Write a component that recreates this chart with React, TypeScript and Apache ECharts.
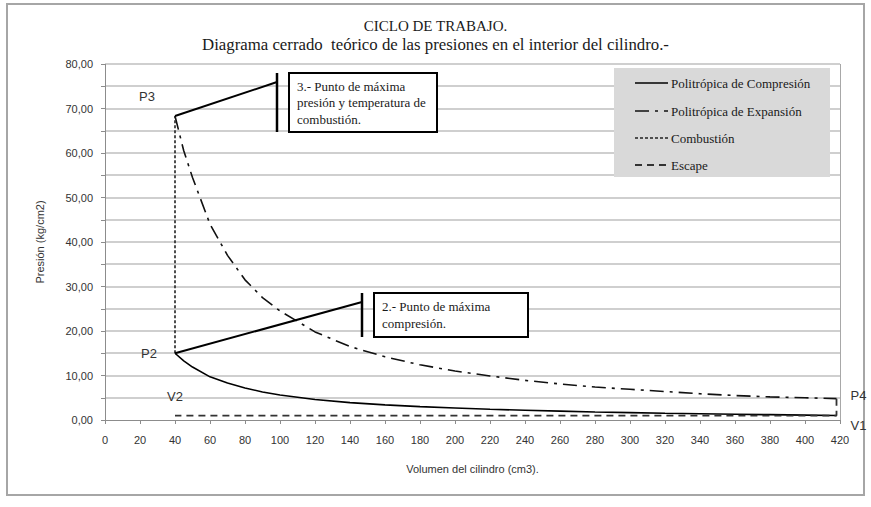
import React, { useEffect, useRef } from 'react';
import * as echarts from 'echarts';

// ---- data ----
const volumes = [40, 45, 50, 60, 70, 80, 90, 100, 120, 140, 160, 180, 200, 220, 240, 260, 280, 300, 320, 340, 360, 380, 400, 418];
const compressionP = [15.0, 13.3, 11.9, 9.7, 8.3, 7.2, 6.3, 5.6, 4.6, 3.9, 3.4, 3.0, 2.7, 2.4, 2.2, 2.0, 1.8, 1.65, 1.5, 1.4, 1.3, 1.2, 1.1, 1.0];
const expansionP = [68.3, 60.5, 54.5, 44.0, 37.0, 31.5, 27.5, 24.5, 19.8, 16.5, 14.2, 12.4, 11.0, 9.9, 8.9, 8.1, 7.4, 6.9, 6.4, 5.9, 5.5, 5.2, 5.0, 4.8];
const combustionV = [40, 40];
const combustionP = [15.0, 68.3];
const escapeV = [418, 418, 40];
const escapeP = [4.8, 1.0, 1.0];
const gridLineValues = [5, 10, 15, 20, 25, 30, 35, 40, 45, 50, 55, 60, 65, 70, 75, 80];
const seriesNames = ['Politrópica de Compresión', 'Politrópica de Expansión', 'Combustión', 'Escape'];
const titleLines = ['CICLO DE TRABAJO.', 'Diagrama cerrado  teórico de las presiones en el interior del cilindro.-'];
const xAxisName = 'Volumen del cilindro (cm3).';
const yAxisName = 'Presión (kg/cm2)';
const note3 = ['3.- Punto de máxima', 'presión y temperatura de', 'combustión.'];
const note2 = ['2.- Punto de máxima', 'compresión.'];

const SERIF = "'Liberation Serif', 'DejaVu Serif', serif";
const SANS = "'Liberation Sans Narrow', 'Liberation Sans', 'DejaVu Sans Condensed', sans-serif";

const zip = (xs: number[], ys: number[]) => xs.map((x, i) => [x, ys[i]]);

const lineStyles: any[] = [
  { color: '#000', width: 1.6, type: 'solid' },
  { color: '#111', width: 1.6, type: [14, 6, 3, 6] },
  { color: '#222', width: 1.6, type: [3, 2] },
  { color: '#333', width: 1.8, type: [7, 5] },
];

export default function App() {
  const ref = useRef<HTMLDivElement>(null);
  useEffect(() => {
    if (!ref.current) return;
    const chart = echarts.init(ref.current, undefined, { renderer: 'svg' });
    const option: any = {
      animation: false,
      backgroundColor: '#fff',
      title: {
        text: `{a|${titleLines[0]}}\n{b|${titleLines[1]}}`,
        left: 'center',
        top: 12,
        textStyle: {
          fontFamily: SERIF, fontWeight: 'normal', color: '#1a1a1a',
          rich: {
            a: { fontFamily: SERIF, fontSize: 15, lineHeight: 18, color: '#1a1a1a' },
            b: { fontFamily: SERIF, fontSize: 16.8, lineHeight: 19, color: '#1a1a1a' },
          },
        },
      },
      grid: { left: 105, right: 31, top: 64, bottom: 87, show: false },
      xAxis: {
        type: 'value', min: 0, max: 420, interval: 20,
        name: xAxisName, nameLocation: 'middle', nameGap: 43,
        nameTextStyle: { fontFamily: SANS, fontSize: 11, color: '#333' },
        axisLine: { show: true, lineStyle: { color: '#8c8c8c' } },
        axisTick: { show: true, length: 4, lineStyle: { color: '#8c8c8c' } },
        axisLabel: { fontFamily: SANS, fontSize: 11, color: '#333', margin: 14 },
        splitLine: { show: false },
      },
      yAxis: {
        type: 'value', min: 0, max: 80, interval: 5,
        name: yAxisName, nameLocation: 'middle', nameGap: 60,
        nameTextStyle: { fontFamily: SANS, fontSize: 11, color: '#333' },
        axisLine: { show: true, lineStyle: { color: '#8c8c8c' } },
        axisTick: { show: true, length: 4, lineStyle: { color: '#8c8c8c' } },
        axisLabel: {
          fontFamily: SANS, fontSize: 11, color: '#333', margin: 12,
          formatter: (v: number) => (v % 10 === 0 ? v.toFixed(2).replace('.', ',') : ''),
        },
        splitLine: { show: false },
      },
      series: [
        { name: seriesNames[0], data: zip(volumes, compressionP) },
        { name: seriesNames[1], data: zip(volumes, expansionP) },
        { name: seriesNames[2], data: zip(combustionV, combustionP) },
        { name: seriesNames[3], data: zip(escapeV, escapeP) },
      ].map((s, i) => ({ ...s, type: 'line', showSymbol: false, symbol: 'none', lineStyle: lineStyles[i], z: 3 + i })),
    };
    chart.setOption(option);

    const px = (v: number, p: number) => chart.convertToPixel({ gridIndex: 0 }, [v, p]) as number[];
    const p3 = px(combustionV[1], combustionP[1]);
    const p2 = px(combustionV[0], combustionP[0]);
    const v2 = px(escapeV[2], escapeP[2]);
    const p4 = px(escapeV[0], escapeP[0]);
    const v1 = px(escapeV[1], escapeP[1]);
    const topRight = px(420, 80);
    const bottomRight = px(420, 0);
    const xLeft = px(0, 0)[0];

    // horizontal gridlines drawn as thin filled bands at the axis' pixel positions
    const gridBands = gridLineValues.map((g) => {
      const y = Math.round(px(0, g)[1]);
      return {
        type: 'rect', z: 1, silent: true,
        shape: { x: Math.round(xLeft) + 1, y: y - 1, width: Math.round(topRight[0]) - Math.round(xLeft) - 1, height: 2 },
        style: { fill: '#cfcfcf' },
      };
    });

    const box3 = { x: 289, y: 73, w: 148, h: 59 };
    const box2 = { x: 374, y: 293, w: 154, h: 44 };

    const ptLabel = (text: string, x: number, y: number) => ({
      type: 'text', x, y, z: 20,
      style: { text, fontFamily: SANS, fontSize: 13, fill: '#333', align: 'center', verticalAlign: 'middle' },
    });

    const callout = (pt: number[], box: any, lines: string[]) => {
      const barX = box.x - 12;
      return [
        { type: 'line', z: 20, shape: { x1: pt[0], y1: pt[1], x2: barX, y2: box.y + 9 }, style: { stroke: '#000', lineWidth: 2 } },
        { type: 'line', z: 20, shape: { x1: barX, y1: box.y, x2: barX, y2: box.y + box.h }, style: { stroke: '#000', lineWidth: 2.5 } },
        { type: 'rect', z: 20, shape: { x: box.x, y: box.y, width: box.w, height: box.h }, style: { fill: '#fff', stroke: '#000', lineWidth: 2 } },
        {
          type: 'text', z: 21, x: box.x + 8, y: box.y + box.h / 2,
          style: { text: lines.join('\n'), fontFamily: SERIF, fontSize: 13, lineHeight: 16.5, fill: '#1a1a1a', verticalAlign: 'middle', align: 'left' },
        },
      ];
    };

    const legX = 614, legY = 68, legW = 216, legH = 109;
    const legRows = [83, 111, 138, 165];
    const legend: any[] = [
      { type: 'rect', z: 15, shape: { x: legX, y: legY, width: legW, height: legH }, style: { fill: '#d9d9d9' } },
    ];
    seriesNames.forEach((n, i) => {
      const ls = lineStyles[i];
      legend.push({
        type: 'line', z: 16, shape: { x1: 635, y1: legRows[i], x2: 668, y2: legRows[i] },
        style: { stroke: ls.color, lineWidth: ls.width, lineDash: Array.isArray(ls.type) ? ls.type : null },
      });
      legend.push({
        type: 'text', z: 16, x: 671, y: legRows[i],
        style: { text: n, fontFamily: SERIF, fontSize: 13, fill: '#1a1a1a', verticalAlign: 'middle' },
      });
    });

    const rx = Math.round(topRight[0]) + 0.5;
    chart.setOption({
      graphic: [
        { type: 'rect', z: 1, shape: { x: 7, y: 4, width: 857, height: 491 }, style: { fill: null, stroke: '#a6a6a6', lineWidth: 2 } },
        ...gridBands,
        { type: 'line', z: 2, shape: { x1: rx, y1: topRight[1], x2: rx, y2: bottomRight[1] }, style: { stroke: '#a8a8a8', lineWidth: 1 } },
        ...legend,
        ...callout(p3, box3, note3),
        ...callout(p2, box2, note2),
        ptLabel('P3', p3[0] - 28, p3[1] - 20),
        ptLabel('P2', p2[0] - 26, p2[1]),
        ptLabel('V2', v2[0], v2[1] - 19),
        ptLabel('P4', p4[0] + 22, p4[1] - 3),
        ptLabel('V1', v1[0] + 22, v1[1] + 10),
      ],
    });

    return () => chart.dispose();
  }, []);
  return <div ref={ref} style={{ position: 'fixed', left: 0, top: 0, width: 871, height: 507 }} />;
}
